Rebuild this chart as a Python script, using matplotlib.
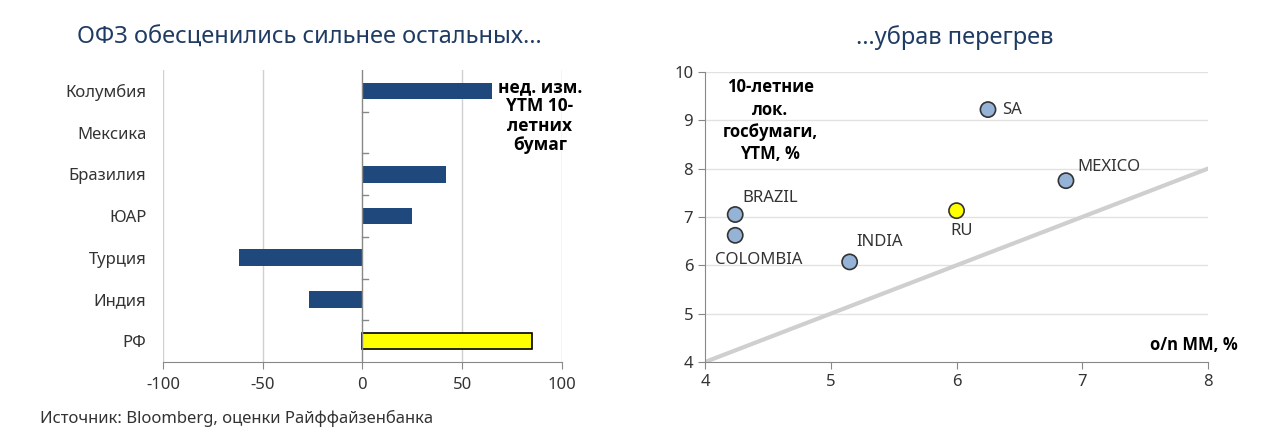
import matplotlib
matplotlib.use("Agg")
import matplotlib.pyplot as plt
import numpy as np

plt.rcParams['font.family'] = ['Noto Sans', 'DejaVu Sans']

# left panel: weekly change of 10y YTM, bp
countries = ["Колумбия", "Мексика", "Бразилия", "ЮАР", "Турция", "Индия", "РФ"]
ytm_change = [65, 0, 42, 25, -62, -27, 85]

# right panel: o/n money market rate vs 10y local govt YTM
labels = ["SA", "MEXICO", "BRAZIL", "COLOMBIA", "INDIA", "RU"]
on_rate = [6.25, 6.87, 4.24, 4.24, 5.15, 6.0]
ytm10 = [9.22, 7.75, 7.05, 6.62, 6.07, 7.13]

title_col = "#1f3b63"
bar_col = "#1f497d"
grid_col = "#d0d0d0"
text_col = "#333333"
bold_font = ['Open Sans', 'DejaVu Sans']

fig = plt.figure(figsize=(12.8, 4.45), dpi=100)

# ---- left: horizontal bars ----
ax1 = fig.add_axes([0.1273, 0.1865, 0.3117, 0.656])
ypos = np.arange(len(countries))
colors = ["#ffff00" if c == "РФ" else bar_col for c in countries]
lws = [1.2 if c == "РФ" else 0 for c in countries]
ax1.barh(ypos, ytm_change, height=0.4, color=colors, edgecolor="black", linewidth=lws, zorder=3)
ax1.set_ylim(len(countries) - 0.5, -0.5)
ax1.set_xlim(-100, 100)
ax1.set_xticks([-100, -50, 0, 50, 100])
ax1.set_xticklabels(["-100", "-50", "0", "50", "100"], fontsize=12, color=text_col)
for x in [-100, -50, 50, 100]:
    ax1.axvline(x, color=grid_col, lw=1, zorder=1)
ax1.axvline(0, color="#888888", lw=1, zorder=4)
# category boundary ticks on the zero axis
for b in np.arange(0.5, len(countries) - 0.5, 1):
    ax1.plot([0, 3], [b, b], color="#888888", lw=1, zorder=4)
ax1.set_yticks(ypos)
ax1.set_yticklabels(countries, fontsize=12, color=text_col)
ax1.tick_params(axis="y", length=0, pad=12)
ax1.tick_params(axis="x", length=5, color="#888888", pad=6)
for s in ["top", "right", "left"]:
    ax1.spines[s].set_visible(False)
ax1.spines["bottom"].set_color("#888888")
ax1.text(89, 0.6, "нед. изм.\nYTM 10-\nлетних\nбумаг", ha="center", va="center",
         fontsize=12.5, fontweight="bold", linespacing=1.1, color="black", family=bold_font)

# ---- right: scatter ----
ax2 = fig.add_axes([0.5508, 0.1865, 0.393, 0.652])
ax2.set_xlim(4, 8)
ax2.set_ylim(4, 10)
ax2.set_xticks([4, 5, 6, 7, 8])
ax2.set_yticks([4, 5, 6, 7, 8, 9, 10])
ax2.tick_params(labelsize=12, colors=text_col, length=5)
ax2.tick_params(axis="both", color="#888888")
for yv in [5, 6, 7, 8, 9, 10]:
    ax2.axhline(yv, color="#e2e2e2", lw=1, zorder=1)
ax2.plot([4, 8], [4, 8], color="#cfcfcf", lw=3, zorder=2)
pt_cols = ["#ffff00" if l == "RU" else "#95b3d7" for l in labels]
ax2.scatter(on_rate, ytm10, s=120, c=pt_cols, edgecolors="#333333", linewidths=1.2, zorder=4)
offsets = {"SA": (10, 0, "left", "center"),
           "MEXICO": (8, 10, "left", "center"),
           "BRAZIL": (5, 12, "left", "center"),
           "COLOMBIA": (17, -18, "center", "center"),
           "INDIA": (5, 14, "left", "center"),
           "RU": (4, -15, "center", "center")}
for l, x, y in zip(labels, on_rate, ytm10):
    dx, dy, ha, va = offsets[l]
    ax2.annotate(l, (x, y), xytext=(dx, dy), textcoords="offset points",
                 ha=ha, va=va, fontsize=12, color=text_col)
for s in ["top", "right"]:
    ax2.spines[s].set_visible(False)
ax2.spines["left"].set_color("#888888")
ax2.spines["bottom"].set_color("#888888")
ax2.text(4.52, 8.99, "10-летние\nлок.\nгосбумаги,\nYTM, %", ha="center", va="center",
         fontsize=12, fontweight="bold", linespacing=1.3, color="black", family=bold_font)
ax2.text(8.24, 4.35, "o/n MM, %", ha="right", va="center", fontsize=12,
         fontweight="bold", color="black", family=bold_font)

fig.text(0.242, 0.915, "ОФЗ обесценились сильнее остальных…", ha="center", va="center",
         fontsize=17, color=title_col)
fig.text(0.746, 0.915, "…убрав перегрев", ha="center", va="center",
         fontsize=17, color=title_col)
fig.text(0.031, 0.06, "Источник: Bloomberg, оценки Райффайзенбанка", ha="left", va="center",
         fontsize=12, color=text_col)

fig.savefig("out.png", dpi=100, facecolor="white")
